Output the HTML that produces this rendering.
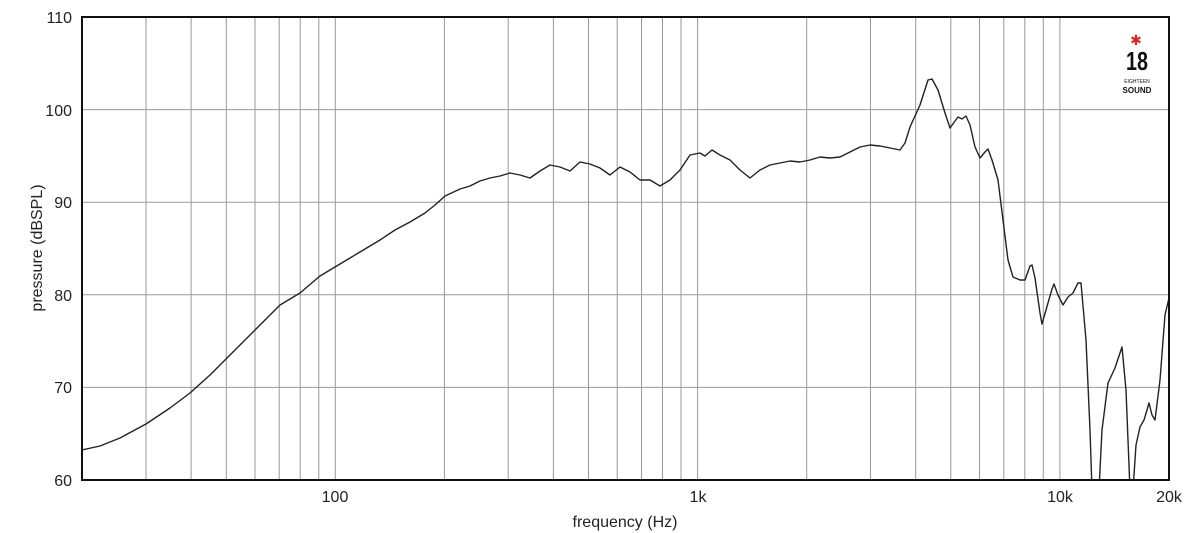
<!DOCTYPE html>
<html><head><style>body{margin:0;background:#fff}svg{display:block}</style></head><body>
<svg width="1200" height="533" viewBox="0 0 1200 533" xmlns="http://www.w3.org/2000/svg" font-family="Liberation Sans, sans-serif">
<defs><clipPath id="c"><rect x="82" y="17" width="1087" height="463"/></clipPath></defs>
<g stroke="#999" stroke-width="1">
<line x1="82" y1="109.6" x2="1169" y2="109.6"/><line x1="82" y1="202.2" x2="1169" y2="202.2"/><line x1="82" y1="294.8" x2="1169" y2="294.8"/><line x1="82" y1="387.4" x2="1169" y2="387.4"/>
<line x1="146" y1="17" x2="146" y2="480"/><line x1="191.1" y1="17" x2="191.1" y2="480"/><line x1="226.3" y1="17" x2="226.3" y2="480"/><line x1="255" y1="17" x2="255" y2="480"/><line x1="279.2" y1="17" x2="279.2" y2="480"/><line x1="300.2" y1="17" x2="300.2" y2="480"/><line x1="318.8" y1="17" x2="318.8" y2="480"/><line x1="335.3" y1="17" x2="335.3" y2="480"/>
<line x1="444.4" y1="17" x2="444.4" y2="480"/><line x1="508.2" y1="17" x2="508.2" y2="480"/><line x1="553.4" y1="17" x2="553.4" y2="480"/><line x1="588.5" y1="17" x2="588.5" y2="480"/><line x1="617.2" y1="17" x2="617.2" y2="480"/><line x1="641.5" y1="17" x2="641.5" y2="480"/><line x1="662.5" y1="17" x2="662.5" y2="480"/><line x1="681" y1="17" x2="681" y2="480"/><line x1="697.6" y1="17" x2="697.6" y2="480"/>
<line x1="806.7" y1="17" x2="806.7" y2="480"/><line x1="870.5" y1="17" x2="870.5" y2="480"/><line x1="915.7" y1="17" x2="915.7" y2="480"/><line x1="950.8" y1="17" x2="950.8" y2="480"/><line x1="979.5" y1="17" x2="979.5" y2="480"/><line x1="1003.8" y1="17" x2="1003.8" y2="480"/><line x1="1024.8" y1="17" x2="1024.8" y2="480"/><line x1="1043.3" y1="17" x2="1043.3" y2="480"/><line x1="1059.9" y1="17" x2="1059.9" y2="480"/>
</g>
<polyline clip-path="url(#c)" fill="none" stroke="#222" stroke-width="1.4" stroke-linejoin="round" points="82,450 100,446 120,438 146,424 170,408 190,393 210,375 230,355 250,335 265,320 280,305 300,293 320,276 340,264 360,252 380,240 395,230 410,222 425,213 435,205 445,196 460,189 470,186 480,181 490,178 500,176 510,173 520,175 530,178 540,171 550,165 560,167 570,171 580,162 590,164 600,168 610,175 620,167 630,172 640,180 650,180 660,186 670,180 680,170 690,155 700,153 705,156 712,150 720,155 730,160 740,170 750,178 760,170 770,165 780,163 790,161 800,162 810,160 820,157 830,158 840,157 850,152 860,147 870,145 880,146 890,148 900,150 905,143 910,127 920,105 928,80 932,79 938,90 945,113 950,128 955,121 958,117 962,119 966,116 970,125 975,147 980,158 985,152 988,149 992,160 998,180 1003,220 1008,260 1013,277 1020,280 1025,280 1030,266 1032,265 1035,278 1040,313 1042,324 1046,310 1052,289 1054,284 1058,295 1063,305 1068,297 1073,293 1078,283 1081,283 1086,340 1090,430 1092,490 1099,490 1102,430 1108,383 1115,368 1122,347 1126,390 1130,490 1133,490 1136,445 1140,427 1144,420 1147,410 1149,403 1152,415 1155,420 1160,380 1165,315 1169,298"/>
<rect x="82" y="17" width="1087" height="463" fill="none" stroke="#111" stroke-width="2"/>
<g font-size="16" fill="#222" text-anchor="end">
<text x="72" y="23">110</text><text x="72" y="116">100</text><text x="72" y="208">90</text><text x="72" y="301">80</text><text x="72" y="393">70</text><text x="72" y="486">60</text>
</g>
<g font-size="16" fill="#222" text-anchor="middle">
<text x="335" y="502">100</text><text x="698" y="502">1k</text><text x="1060" y="502">10k</text><text x="1169" y="502">20k</text>
<text x="625" y="527">frequency (Hz)</text>
<text transform="translate(42,248) rotate(-90)">pressure (dBSPL)</text>
</g>
<text x="1136" y="45" font-size="14" fill="#d22" text-anchor="middle">✱</text>
<text x="1137" y="70" font-size="26" font-weight="bold" fill="#111" text-anchor="middle" textLength="22" lengthAdjust="spacingAndGlyphs">18</text>
<text x="1137" y="83" font-size="5" fill="#111" text-anchor="middle">EIGHTEEN</text>
<text x="1137" y="93" font-size="8" font-weight="bold" fill="#111" text-anchor="middle">SOUND</text>
</svg>
</body></html>
